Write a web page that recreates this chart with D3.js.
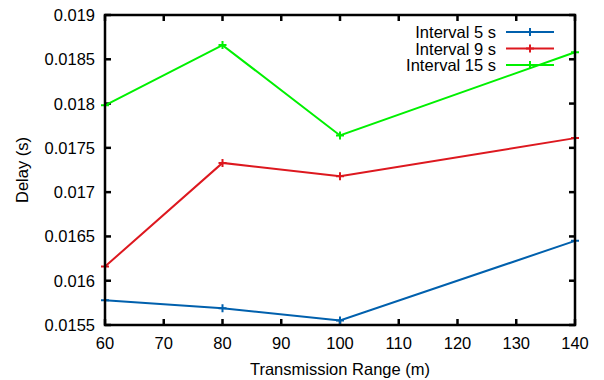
<!DOCTYPE html>
<html><head><meta charset="utf-8">
<script src="https://cdn.jsdelivr.net/npm/d3@7"></script>
<style>body{margin:0;background:#fff}svg{display:block}text{font-family:"Liberation Sans",Arial,sans-serif}</style>
</head><body><svg id="c" width="604" height="380"></svg>
<script>
const ranges = [60, 80, 100, 140];
const interval5 = [0.01578, 0.01569, 0.01555, 0.01645];
const interval9 = [0.01616, 0.01733, 0.01718, 0.01761];
const interval15 = [0.01798, 0.01866, 0.01764, 0.01858];
const seriesNames = ["Interval 5 s", "Interval 9 s", "Interval 15 s"];
const seriesColors = ["#0060ad", "#dd181f", "#00f000"];
const xTicks = [60,70,80,90,100,110,120,130,140];
const yTicks = [0.0155,0.016,0.0165,0.017,0.0175,0.018,0.0185,0.019];
const yTickLabels = ["0.0155","0.016","0.0165","0.017","0.0175","0.018","0.0185","0.019"];

const svg = d3.select("#c");
const L=105,R=575,T=15,B=325;
const FS=16.5;
const x = d3.scaleLinear().domain([60,140]).range([L,R]);
const y = d3.scaleLinear().domain([0.0155,0.019]).range([B,T]);

const series=[interval5,interval9,interval15];
const g = svg.append("g");
const tl=6;
xTicks.forEach(t=>{
  g.append("line").attr("x1",x(t)).attr("x2",x(t)).attr("y1",B).attr("y2",B-tl).attr("stroke","#000").attr("stroke-width",2.5);
  g.append("line").attr("x1",x(t)).attr("x2",x(t)).attr("y1",T).attr("y2",T+tl).attr("stroke","#000").attr("stroke-width",2.5);
  g.append("text").attr("x",x(t)).attr("y",B+24).attr("text-anchor","middle").attr("font-size",FS).text(t);
});
yTicks.forEach((t,i)=>{
  g.append("line").attr("x1",L).attr("x2",L+tl).attr("y1",y(t)).attr("y2",y(t)).attr("stroke","#000").attr("stroke-width",2.5);
  g.append("line").attr("x1",R).attr("x2",R-tl).attr("y1",y(t)).attr("y2",y(t)).attr("stroke","#000").attr("stroke-width",2.5);
  g.append("text").attr("x",L-10).attr("y",y(t)+6).attr("text-anchor","end").attr("font-size",FS).text(yTickLabels[i]);
});

const line=d3.line().x((d,i)=>x(ranges[i])).y(d=>y(d));
series.forEach((s,k)=>{
  g.append("path").attr("d",line(s)).attr("fill","none").attr("stroke",seriesColors[k]).attr("stroke-width",2);
  s.forEach((v,i)=>{
    const px=x(ranges[i]),py=y(v);
    g.append("path").attr("d",`M${px-4},${py}H${px+4}M${px},${py-4}V${py+4}`).attr("stroke",seriesColors[k]).attr("stroke-width",2);
  });
});

g.append("rect").attr("x",L).attr("y",T).attr("width",R-L).attr("height",B-T).attr("fill","none").attr("stroke","#000").attr("stroke-width",2.5);

seriesNames.forEach((n,k)=>{
  const ly=32+k*16.5;
  g.append("text").attr("x",496).attr("y",ly+6).attr("text-anchor","end").attr("font-size",FS).text(n);
  g.append("line").attr("x1",506).attr("x2",554).attr("y1",ly).attr("y2",ly).attr("stroke",seriesColors[k]).attr("stroke-width",2);
  g.append("path").attr("d",`M526,${ly}H534M530,${ly-4}V${ly+4}`).attr("stroke",seriesColors[k]).attr("stroke-width",2);
});

g.append("text").attr("x",(L+R)/2).attr("y",375).attr("text-anchor","middle").attr("font-size",FS).text("Transmission Range (m)");
g.append("text").attr("transform","translate(28,170) rotate(-90)").attr("text-anchor","middle").attr("font-size",FS).text("Delay (s)");
</script></body></html>
